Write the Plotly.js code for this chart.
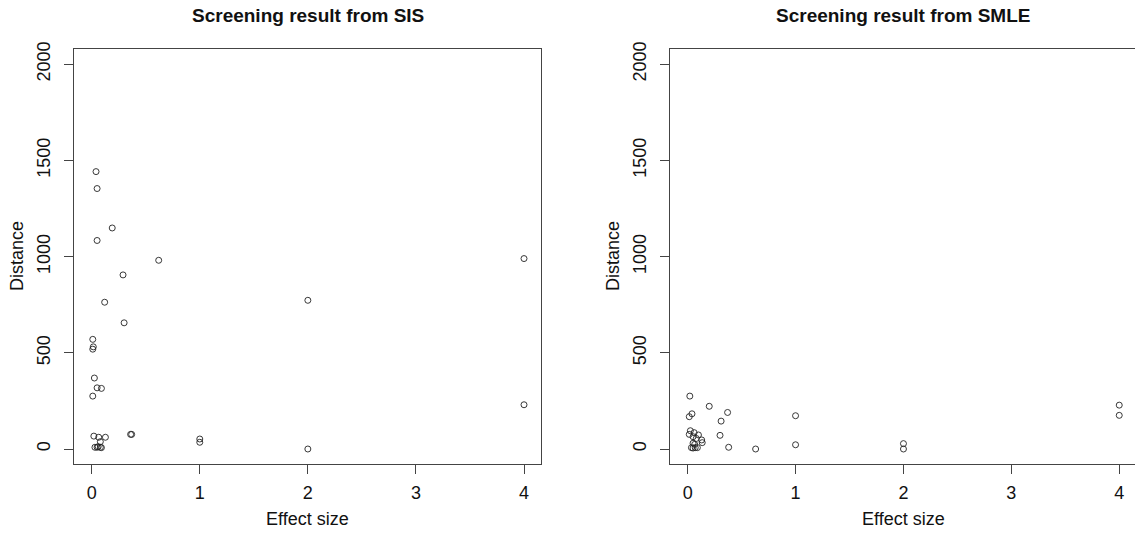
<!DOCTYPE html>
<html>
<head>
<meta charset="utf-8">
<script src="https://cdn.plot.ly/plotly-3.0.1.min.js"></script>
<style>html,body{margin:0;padding:0;background:#fff;}#chart{width:1135px;height:536px;}</style>
</head>
<body>
<div id="chart"></div>
<script>
// Screening result from SIS
const sisEffect = [0.04, 0.05, 0.19, 0.05, 0.62, 0.29, 0.12, 0.30, 0.01, 0.015, 0.01, 0.025, 0.05, 0.09, 0.01,
  0.02, 0.065, 0.127, 0.08, 0.36, 0.37, 1, 1, 0.03, 0.05, 0.06, 0.08, 0.09, 2, 2, 4, 4];
const sisDistance = [1442, 1354, 1149, 1084, 981, 905, 763, 656, 570, 531, 519, 369, 318, 315, 275,
  67, 61, 61, 38, 76, 76, 52, 35, 9, 9, 12, 9, 7, 0, 773, 990, 230];
// Screening result from SMLE
const smleEffect = [0.02, 0.20, 0.04, 0.015, 0.37, 0.31, 1.0, 0.30, 0.38, 0.63, 1.0, 0.025, 0.06, 0.015, 0.10,
  0.05, 0.08, 0.13, 0.135, 0.05, 0.065, 0.035, 0.07, 0.09, 0.05, 2, 2, 4, 4];
const smleDistance = [275, 222, 183, 168, 190, 145, 173, 71, 9, 0, 22, 95, 85, 76, 73,
  64, 55, 47, 33, 30, 24, 7, 7, 7, 5, 28, 0, 228, 175];

const xTicks = [0, 1, 2, 3, 4];
const yTicks = [0, 500, 1000, 1500, 2000];
const panelTitles = ['Screening result from SIS', 'Screening result from SMLE'];
const xTitle = 'Effect size';
const yTitle = 'Distance';

const FONT = 'Liberation Sans, Arial, sans-serif';
const W = 1135, H = 536;
const marker = {symbol: 'circle-open', size: 6, color: '#222', line: {width: 0.9, color: '#222'}};

const traces = [
  {x: sisEffect, y: sisDistance, type: 'scatter', mode: 'markers', marker: marker, xaxis: 'x', yaxis: 'y', hoverinfo: 'x+y'},
  {x: smleEffect, y: smleDistance, type: 'scatter', mode: 'markers', marker: marker, xaxis: 'x2', yaxis: 'y2', hoverinfo: 'x+y'}
];

const dom1 = [0.06555, 0.47692];
const dom2 = [0.59066, 1.0];

function xax(domain, range, anchor) {
  return {
    domain: domain, range: range, anchor: anchor, tickvals: xTicks, ticktext: xTicks.map(String),
    showline: true, mirror: true, linecolor: '#444', linewidth: 1,
    ticks: 'outside', ticklen: 9, tickcolor: '#444', tickwidth: 1,
    showgrid: false, zeroline: false, ticklabelstandoff: 3,
    tickfont: {family: FONT, size: 18, color: '#111'}
  };
}
function yax(anchor) {
  return {
    domain: [0.1336, 0.9088], range: [-80, 2080], anchor: anchor,
    tickvals: yTicks, ticktext: yTicks.map(String), tickangle: -90,
    showline: true, mirror: true, linecolor: '#444', linewidth: 1,
    ticks: 'outside', ticklen: 9, tickcolor: '#444', tickwidth: 1,
    showgrid: false, zeroline: false, ticklabelstandoff: 7,
    tickfont: {family: FONT, size: 18, color: '#111'}
  };
}

function ann(text, xPx, yPx, size, angle) {
  return {text: text, xref: 'paper', yref: 'paper', x: xPx / W, y: 1 - yPx / H,
    xanchor: 'center', yanchor: 'middle', showarrow: false, textangle: angle || 0,
    font: {family: FONT, size: size, color: '#111'}};
}

const c1 = (dom1[0] + dom1[1]) / 2 * W;
const c2 = (dom2[0] * W + 1136.6) / 2;

const layout = {
  width: W, height: H,
  margin: {l: 0, r: 0, t: 0, b: 0},
  paper_bgcolor: '#fff', plot_bgcolor: '#fff',
  showlegend: false,
  xaxis: xax(dom1, [-0.16, 4.16], 'y'),
  yaxis: yax('x'),
  xaxis2: xax(dom2, [-0.16, 4.146], 'y2'),
  yaxis2: yax('x2'),
  annotations: [
    ann('<b>' + panelTitles[0] + '</b>', c1, 16, 19),
    ann('<b>' + panelTitles[1] + '</b>', c2, 16, 19),
    ann(xTitle, c1, 519, 18),
    ann(xTitle, c2, 519, 18),
    ann(yTitle, 17, 256, 18, -90),
    ann(yTitle, dom2[0] * W - 57.4, 256, 18, -90)
  ]
};

Plotly.newPlot('chart', traces, layout, {staticPlot: true, displayModeBar: false});
</script>
</body>
</html>
